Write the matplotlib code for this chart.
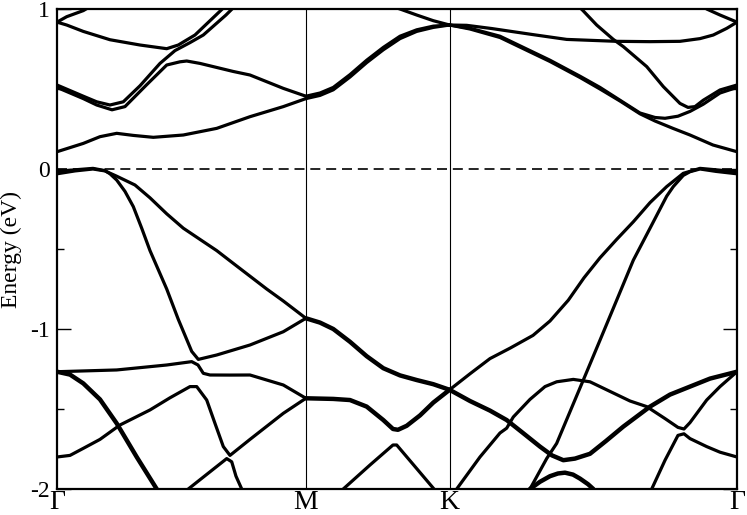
import matplotlib
matplotlib.use('Agg')
import matplotlib.pyplot as plt

# high symmetry points along the path (same units as the k arrays)
sym_k = [0.0, 0.5774, 0.9107, 1.5774]
sym_labels = ['Γ', 'M', 'K', 'Γ']

# ---- conduction bands ----
c01_k = [0.0, 0.0225, 0.0610, 0.0800]
c01_e = [0.918, 0.952, 0.990, 1.020]
c02_k = [1.5000, 1.5071, 1.5380, 1.5774]
c02_e = [1.020, 1.000, 0.9625, 0.918]
c03_k = [0.0, 0.0225, 0.0610, 0.1229, 0.1925, 0.2545, 0.2814, 0.3201, 0.3688, 0.3834, 0.3920]
c03_e = [0.918, 0.900, 0.860, 0.808, 0.775, 0.752, 0.775, 0.8375, 0.9625, 1.000, 1.020]
c04_k = [0.0, 0.0610, 0.0921, 0.1229, 0.1538, 0.1925, 0.2389, 0.2737, 0.3085, 0.3394, 0.3920, 0.4060, 0.4152]
c04_e = [0.525, 0.455, 0.420, 0.400, 0.420, 0.520, 0.660, 0.740, 0.790, 0.8375, 0.9625, 1.000, 1.020]
c05_k = [0.0, 0.0610, 0.0921, 0.1276, 0.1577, 0.2081, 0.2545, 0.2853, 0.3009, 0.3317, 0.4083, 0.4477, 0.5250, 0.5774]
c05_e = [0.510, 0.440, 0.400, 0.370, 0.390, 0.527, 0.650, 0.670, 0.675, 0.660, 0.610, 0.5875, 0.504, 0.455]
c06_k = [0.0, 0.0610, 0.0997, 0.1385, 0.1770, 0.2234, 0.2930, 0.3705, 0.4477, 0.5250, 0.5774]
c06_e = [0.108, 0.160, 0.202, 0.223, 0.210, 0.198, 0.2125, 0.254, 0.327, 0.390, 0.440]
c07_k = [0.5774, 0.6101, 0.6409, 0.6797, 0.7184, 0.7569, 0.7957, 0.8344, 0.8729, 0.9107]
c07_e = [0.455, 0.475, 0.510, 0.590, 0.680, 0.760, 0.830, 0.870, 0.893, 0.900]
c08_k = [0.5774, 0.6101, 0.6409, 0.6797, 0.7184, 0.7569, 0.7957, 0.8344, 0.8729, 0.9107]
c08_e = [0.440, 0.460, 0.495, 0.575, 0.665, 0.745, 0.815, 0.860, 0.885, 0.900]
c09_k = [0.7609, 0.7957, 0.8344, 0.8729, 0.9107]
c09_e = [1.030, 1.000, 0.9625, 0.927, 0.900]
c10_k = [0.9107, 0.9504, 1.0084, 1.1042, 1.1823, 1.2983, 1.3757, 1.4451, 1.4916, 1.5224, 1.5535, 1.5774]
c10_e = [0.900, 0.898, 0.878, 0.840, 0.810, 0.798, 0.796, 0.798, 0.815, 0.8375, 0.879, 0.918]
c11_k = [1.2086, 1.2202, 1.2519, 1.2905, 1.3137, 1.3680, 1.4065, 1.4451, 1.4637, 1.4800, 1.4992, 1.5380, 1.5774]
c11_e = [1.020, 0.990, 0.900, 0.810, 0.765, 0.640, 0.515, 0.410, 0.385, 0.390, 0.430, 0.494, 0.525]
c12_k = [0.9107, 0.9580, 1.0276, 1.1436, 1.2132, 1.2596, 1.3060, 1.3524, 1.3873, 1.4105, 1.4405, 1.4684, 1.4992, 1.5380, 1.5774]
c12_e = [0.900, 0.880, 0.830, 0.680, 0.580, 0.510, 0.430, 0.350, 0.322, 0.317, 0.330, 0.360, 0.405, 0.475, 0.510]
c13_k = [0.9107, 0.9580, 1.0276, 1.1436, 1.2132, 1.2596, 1.3060, 1.3524, 1.3873, 1.4289, 1.4684, 1.5217, 1.5774]
c13_e = [0.900, 0.875, 0.822, 0.672, 0.572, 0.500, 0.425, 0.345, 0.300, 0.254, 0.2125, 0.150, 0.108]

# ---- valence bands ----
v01_k = [0.0, 0.0418, 0.0835, 0.1113, 0.1229, 0.1385, 0.1577, 0.1770, 0.1965, 0.2157, 0.2545, 0.2814,
         0.3125, 0.3278, 0.3705, 0.4477, 0.5250, 0.5774]
v01_e = [-0.017, -0.005, 0.004, -0.010, -0.030, -0.069, -0.140, -0.235, -0.370, -0.510, -0.750, -0.940,
         -1.140, -1.190, -1.1625, -1.100, -1.017, -0.933]
v02_k = [0.0, 0.0418, 0.0835, 0.1113, 0.1385, 0.1809, 0.2157, 0.2545, 0.2930, 0.3317, 0.3705, 0.4090,
         0.4477, 0.4864, 0.5250, 0.5774]
v02_e = [-0.030, -0.012, 0.000, -0.012, -0.045, -0.100, -0.180, -0.280, -0.370, -0.440, -0.510, -0.590,
         -0.670, -0.750, -0.825, -0.933]
v03_k = [0.0, 0.1385, 0.2545, 0.3125, 0.3271, 0.3394, 0.3549, 0.4013, 0.4477, 0.5250, 0.5774]
v03_e = [-1.267, -1.256, -1.225, -1.204, -1.225, -1.277, -1.2875, -1.288, -1.2875, -1.350, -1.433]
v04_k = [0.0, 0.0302, 0.0610, 0.0997, 0.1385, 0.1849, 0.2313, 0.2389]
v04_e = [-1.267, -1.285, -1.340, -1.440, -1.590, -1.800, -2.000, -2.030]
v05_k = [0.0, 0.0302, 0.0610, 0.0997, 0.1306, 0.1461, 0.2157, 0.2621, 0.3085, 0.3241, 0.3473, 0.3665,
         0.3858, 0.4013, 0.4477, 0.5250, 0.5774]
v05_e = [-1.800, -1.790, -1.746, -1.690, -1.630, -1.600, -1.506, -1.430, -1.360, -1.360, -1.444, -1.590,
         -1.735, -1.790, -1.690, -1.527, -1.433]
v06_k = [0.2969, 0.3046, 0.3491, 0.3937, 0.4053, 0.4152, 0.4285, 0.4315]
v06_e = [-2.030, -2.000, -1.905, -1.810, -1.830, -1.920, -2.000, -2.030]
v07_k = [0.5774, 0.6101, 0.6409, 0.6797, 0.7184, 0.7569, 0.7957, 0.8344, 0.8729, 0.9107]
v07_e = [-0.933, -0.960, -1.000, -1.080, -1.170, -1.245, -1.290, -1.319, -1.345, -1.380]
v08_k = [0.5774, 0.6409, 0.6797, 0.7184, 0.7569, 0.7794, 0.7910, 0.8112, 0.8421, 0.8729, 0.9107]
v08_e = [-1.433, -1.437, -1.444, -1.485, -1.569, -1.625, -1.630, -1.605, -1.540, -1.460, -1.380]
v09_k = [0.6565, 0.6641, 0.7261, 0.7794, 0.7880, 0.8305, 0.8745, 0.8815]
v09_e = [-2.030, -2.000, -1.850, -1.725, -1.725, -1.860, -2.000, -2.030]
v10_k = [0.9107, 0.9580, 1.0044, 1.0508, 1.1042, 1.1436, 1.1861, 1.2225, 1.2596, 1.2983, 1.3369, 1.3757,
         1.4143, 1.4528, 1.4916, 1.5287, 1.5774]
v10_e = [-1.380, -1.280, -1.185, -1.120, -1.040, -0.950, -0.820, -0.680, -0.555, -0.440, -0.330, -0.210,
         -0.110, -0.027, 0.004, -0.005, -0.017]
v11_k = [0.9107, 0.9580, 1.0044, 1.0431, 1.0810, 1.1204, 1.1482, 1.1745, 1.2016, 1.2364, 1.2735, 1.3137,
         1.3757, 1.4220, 1.4684, 1.5148, 1.5774]
v11_e = [-1.380, -1.450, -1.510, -1.569, -1.650, -1.735, -1.790, -1.820, -1.810, -1.780, -1.700, -1.610,
         -1.485, -1.410, -1.360, -1.310, -1.267]
v12_k = [1.0926, 1.0972, 1.1359, 1.1591, 1.2209, 1.2596, 1.2983, 1.3369, 1.3757, 1.4143, 1.4296, 1.4528,
         1.4684, 1.4916, 1.5287, 1.5774]
v12_e = [-2.030, -2.000, -1.810, -1.715, -1.319, -1.070, -0.820, -0.570, -0.370, -0.170, -0.110, -0.040,
         -0.017, 0.000, -0.015, -0.030]
v13_k = [0.9233, 0.9272, 0.9812, 1.0276, 1.0431, 1.0585, 1.0972, 1.1320, 1.1591, 1.1977, 1.2364, 1.2828,
         1.3292, 1.3680, 1.4105, 1.4405, 1.4544, 1.4684, 1.5071, 1.5380, 1.5774]
v13_e = [-2.030, -2.000, -1.800, -1.650, -1.620, -1.550, -1.440, -1.360, -1.330, -1.315, -1.330, -1.390,
         -1.450, -1.485, -1.560, -1.615, -1.625, -1.585, -1.444, -1.360, -1.267]
v14_k = [1.3757, 1.3796, 1.4105, 1.4405, 1.4544, 1.4684, 1.5071, 1.5380, 1.5774]
v14_e = [-2.030, -2.000, -1.820, -1.665, -1.655, -1.685, -1.735, -1.770, -1.800]
v15_k = [1.0926, 1.0972, 1.1204, 1.1436, 1.1621, 1.1784, 1.1970, 1.2132, 1.2318, 1.2441]
v15_e = [-2.030, -2.000, -1.955, -1.920, -1.903, -1.898, -1.910, -1.935, -1.970, -2.000]

ytick_vals = [-2, -1, 0, 1]
ytick_text = ['-2', '-1', '0', '1']
yminor_vals = [-1.5, -0.5, 0.5]


def plot_bands():

    plt.rcParams['font.family'] = ['Liberation Serif', 'DejaVu Serif']

    fig = plt.figure(figsize=(7.47, 5.15), dpi=100)
    ax = fig.add_axes([0.0763, 0.0505, 0.9103, 0.9320])

    thin = [(c01_k, c01_e), (c02_k, c02_e), (c03_k, c03_e), (c04_k, c04_e), (c05_k, c05_e),
            (c06_k, c06_e), (c07_k, c07_e), (c08_k, c08_e), (c09_k, c09_e), (c10_k, c10_e),
            (c11_k, c11_e), (c12_k, c12_e), (c13_k, c13_e),
            (v01_k, v01_e), (v02_k, v02_e), (v03_k, v03_e), (v05_k, v05_e), (v06_k, v06_e),
            (v09_k, v09_e), (v10_k, v10_e), (v12_k, v12_e), (v13_k, v13_e), (v14_k, v14_e)]
    thick = [(v04_k, v04_e), (v07_k, v07_e), (v08_k, v08_e), (v11_k, v11_e), (v15_k, v15_e)]

    for k, e in thin:
        ax.plot(k, e, color='black', lw=2.3, solid_capstyle='round', solid_joinstyle='round', zorder=3)
    for k, e in thick:
        ax.plot(k, e, color='black', lw=3.2, solid_capstyle='round', solid_joinstyle='round', zorder=3)

    # high symmetry lines and fermi level
    for k in sym_k[1:-1]:
        ax.axvline(k, color='black', lw=0.8, zorder=1)
    ax.axhline(0, color='black', lw=1.2, linestyle=(0, (6, 3.5)), zorder=2)

    ax.set_xlim(sym_k[0], sym_k[-1])
    ax.set_ylim(-2, 1)
    ax.set_xticks(sym_k)
    ax.set_xticklabels(sym_labels, fontsize=20)
    ax.set_yticks(ytick_vals)
    ax.set_yticklabels(ytick_text, fontsize=17)
    ax.set_yticks(yminor_vals, minor=True)
    ax.tick_params(axis='x', length=0, pad=0.5)
    ax.tick_params(axis='y', which='both', direction='in', left=True, right=True, width=1.0)
    ax.tick_params(axis='y', which='major', length=10, pad=5)
    ax.tick_params(axis='y', which='minor', length=5)
    for sp in ax.spines.values():
        sp.set_linewidth(1.6)

    ax.set_ylabel('Energy (eV)', fontsize=17, labelpad=6)

    plt.savefig('out.png', dpi=100)


def run():

    plot_bands()

    return


if __name__ == "__main__":
    run()
